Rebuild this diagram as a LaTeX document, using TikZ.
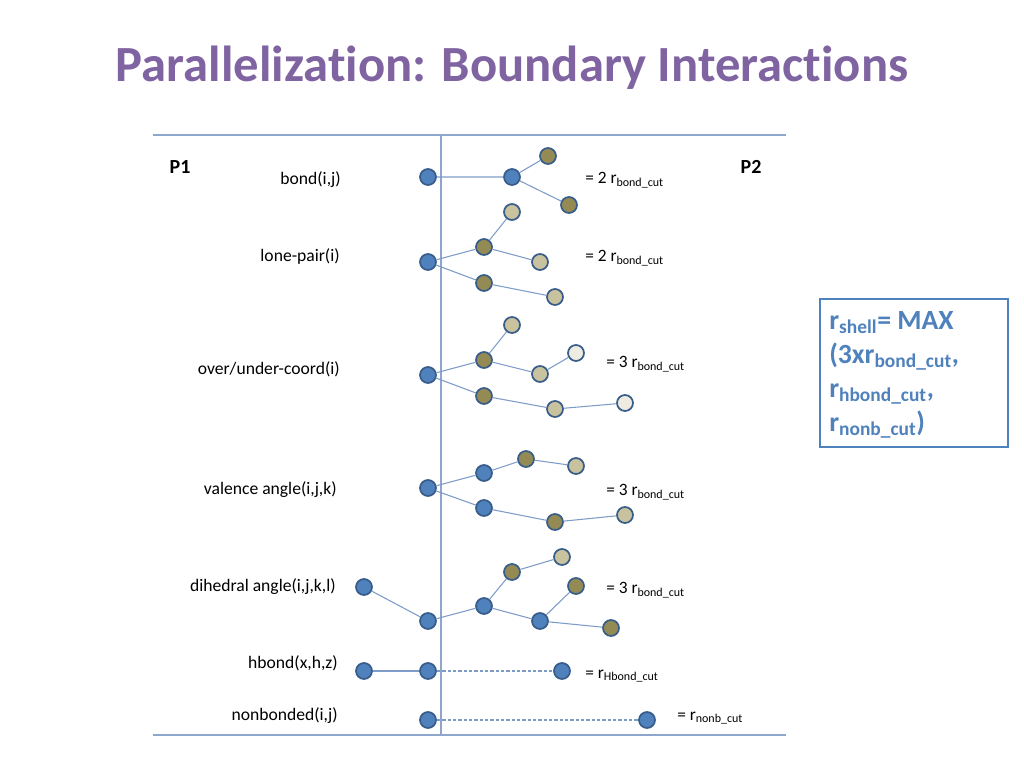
\documentclass[tikz,border=0pt]{standalone}
\usepackage{fontspec}
\setmainfont{Carlito}[Ligatures=NoCommon]
\definecolor{titlepurple}{HTML}{8064A2}
\definecolor{atomblue}{HTML}{4F81BD}
\definecolor{atomolive}{HTML}{948A54}
\definecolor{atomtan}{HTML}{C9C29E}
\definecolor{atomlight}{HTML}{EEECE1}
\definecolor{rimblue}{HTML}{385D8A}
\definecolor{bondline}{HTML}{7E9CC8}
\definecolor{frameline}{HTML}{8EA6CC}
\definecolor{boxblue}{HTML}{4F81BD}
\tikzset{
  atom/.style={circle, draw=rimblue, line width=1.3pt, minimum size=12pt, inner sep=0pt},
  ablue/.style={atom, fill=atomblue},
  aolive/.style={atom, fill=atomolive},
  atan/.style={atom, fill=atomtan},
  alight/.style={atom, fill=atomlight},
  bnd/.style={draw=bondline, line width=0.8pt},
  nbnd/.style={draw=bondline, line width=0.8pt, dashed, dash pattern=on 2.5pt off 1.5pt},
  lbl/.style={anchor=east, font=\fontsize{13.2}{15}\selectfont, inner sep=0pt},
  eqlbl/.style={anchor=west, font=\fontsize{13}{15}\selectfont, inner sep=0pt},
  frm/.style={draw=frameline, line width=1pt}
}
\newcommand{\sbs}[1]{\textsubscript{\fontsize{9}{10}\selectfont #1}}
\begin{document}
\begin{tikzpicture}[x=0.75pt,y=-0.75pt]
\useasboundingbox (0,0) rectangle (1024,768);
\node[font=\fontsize{38}{44}\bfseries\selectfont, text=titlepurple] (title) at (512,68) {Parallelization: Boundary Interactions};

% frame
\coordinate (ftl) at (153,135); \coordinate (ftr) at (786,135);
\coordinate (fbl) at (153,735); \coordinate (fbr) at (786,735);
\coordinate (vt) at (441,135); \coordinate (vb) at (441,735);
\draw[frm] (ftl) -- (ftr);
\draw[frm] (fbl) -- (fbr);
\draw[frm] (vt) -- (vb);

\node[font=\fontsize{15}{17}\bfseries\selectfont] (p1) at (180,167) {P1};
\node[font=\fontsize{15}{17}\bfseries\selectfont] (p2) at (751,167) {P2};

% labels
\node[lbl] (l1) at (341,180) {bond(i,j)};
\node[lbl] (l2) at (340,256) {lone-pair(i)};
\node[lbl] (l3) at (340,369) {over/under-coord(i)};
\node[lbl] (l4) at (337,490) {valence angle(i,j,k)};
\node[lbl] (l5) at (336,587) {dihedral angle(i,j,k,l)};
\node[lbl] (l6) at (338,663) {hbond(x,h,z)};
\node[lbl] (l7) at (338,716) {nonbonded(i,j)};

% row 1: bond
\node[ablue] (a1) at (428,177) {};
\node[ablue] (b1) at (512,177) {};
\node[aolive] (c1) at (548,156) {};
\node[aolive] (d1) at (569,205) {};
\draw[bnd] (a1) -- (b1) (b1) -- (c1) (b1) -- (d1);
\node[eqlbl] (e1) at (585,180) {= 2 r\sbs{bond\_cut}};

% row 2: lone pair
\node[ablue] (a2) at (428,262) {};
\node[aolive] (b2) at (484,247) {};
\node[atan] (c2) at (512,212) {};
\node[atan] (d2) at (540,262) {};
\node[aolive] (f2) at (484,283) {};
\node[atan] (g2) at (555,297) {};
\draw[bnd] (a2) -- (b2) (b2) -- (c2) (b2) -- (d2) (a2) -- (f2) (f2) -- (g2);
\node[eqlbl] (e2) at (585,258) {= 2 r\sbs{bond\_cut}};

% row 3: over/under coord
\node[ablue] (a3) at (428,375) {};
\node[aolive] (b3) at (484,360) {};
\node[atan] (c3) at (512,325) {};
\node[atan] (d3) at (540,374) {};
\node[alight] (h3) at (576,353) {};
\node[aolive] (f3) at (484,396) {};
\node[atan] (g3) at (555,409) {};
\node[alight] (k3) at (625,403) {};
\draw[bnd] (a3) -- (b3) (b3) -- (c3) (b3) -- (d3) (d3) -- (h3) (a3) -- (f3) (f3) -- (g3) (g3) -- (k3);
\node[eqlbl] (e3) at (606,364) {= 3 r\sbs{bond\_cut}};

% row 4: valence angle
\node[ablue] (a4) at (428,488) {};
\node[ablue] (b4) at (484,473) {};
\node[aolive] (c4) at (526,459) {};
\node[atan] (d4) at (576,466) {};
\node[ablue] (f4) at (484,508) {};
\node[aolive] (g4) at (555,522) {};
\node[atan] (h4) at (625,515) {};
\draw[bnd] (a4) -- (b4) (b4) -- (c4) (c4) -- (d4) (a4) -- (f4) (f4) -- (g4) (g4) -- (h4);
\node[eqlbl] (e4) at (606,492) {= 3 r\sbs{bond\_cut}};

% row 5: dihedral
\node[ablue] (l5a) at (364,587) {};
\node[ablue] (a5) at (428,621) {};
\node[ablue] (b5) at (484,606) {};
\node[aolive] (c5) at (512,572) {};
\node[atan] (d5) at (562,557) {};
\node[ablue] (f5) at (540,621) {};
\node[aolive] (g5) at (576,586) {};
\node[aolive] (h5) at (611,628) {};
\draw[bnd] (l5a) -- (a5) (a5) -- (b5) (b5) -- (c5) (c5) -- (d5) (b5) -- (f5) (f5) -- (g5) (f5) -- (h5);
\node[eqlbl] (e5) at (606,590) {= 3 r\sbs{bond\_cut}};

% row 6: hbond
\node[ablue] (x6) at (364,671) {};
\node[ablue] (h6) at (428,671) {};
\node[ablue] (z6) at (562,671) {};
\draw[bnd] (x6) -- (h6);
\draw[nbnd] (h6) -- (z6);
\node[eqlbl] (e6) at (585,676) {= r\sbs{Hbond\_cut}};

% row 7: nonbonded
\node[ablue] (i7) at (428,720) {};
\node[ablue] (j7) at (647,720) {};
\draw[nbnd] (i7) -- (j7);
\node[eqlbl] (e7) at (677,718) {= r\sbs{nonb\_cut}};

% right box
\node[draw=boxblue, line width=1.2pt, minimum width=141pt, minimum height=111pt, anchor=north west, inner sep=0pt] (box) at (819,298) {};
\node[anchor=north west, text=boxblue, font=\fontsize{20.8}{25.5}\bfseries\selectfont, align=left, inner sep=0pt] (boxtxt) at (829,311)
{r\textsubscript{shell}= MAX\\(3xr\textsubscript{bond\_cut},\\r\textsubscript{hbond\_cut},\\r\textsubscript{nonb\_cut})};
\end{tikzpicture}
\end{document}
